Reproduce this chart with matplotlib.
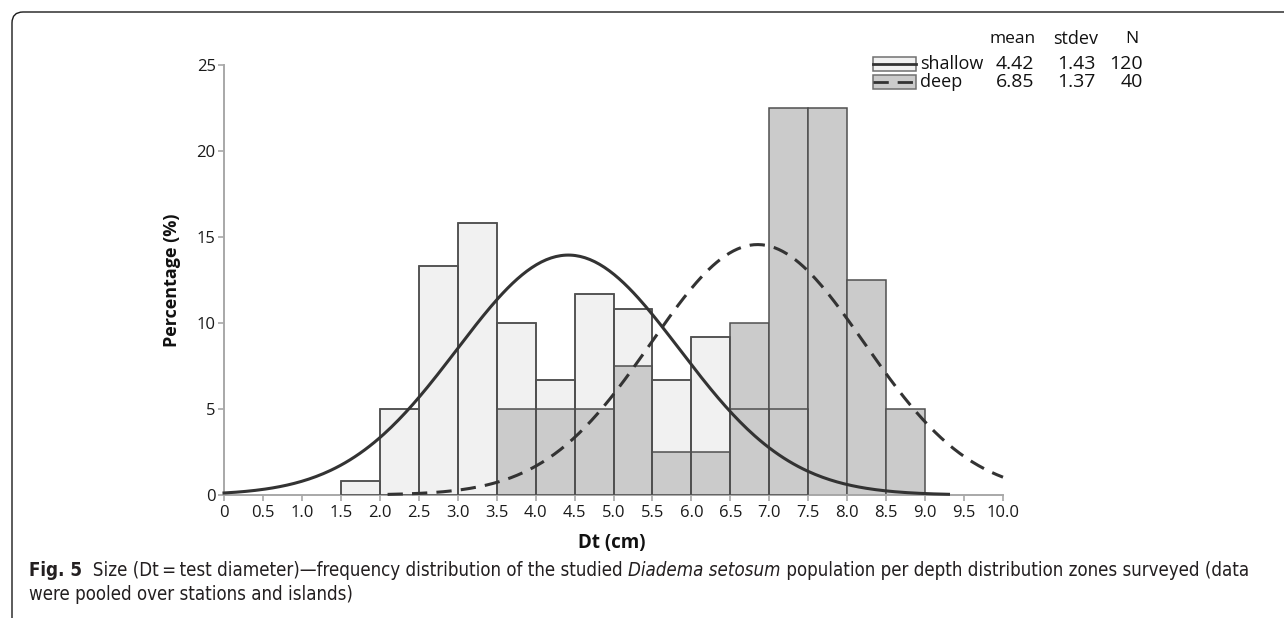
import numpy as np
import matplotlib
matplotlib.use('Agg')
import matplotlib.pyplot as plt
from matplotlib.patches import Rectangle
from matplotlib.lines import Line2D
from matplotlib.path import Path
from matplotlib.patches import PathPatch

# ---------------- data ----------------
bin_left = [1.5, 2.0, 2.5, 3.0, 3.5, 4.0, 4.5, 5.0, 5.5, 6.0, 6.5, 7.0, 7.5, 8.0, 8.5]
bin_width = 0.5
shallow_pct = [0.83, 5.0, 13.33, 15.83, 10.0, 6.67, 11.67, 10.83, 6.67, 9.17, 5.0, 5.0, 0, 0, 0]
deep_pct = [0, 0, 0, 0, 5.0, 5.0, 5.0, 7.5, 2.5, 2.5, 10.0, 22.5, 22.5, 12.5, 5.0]

groups = ["shallow", "deep"]
means = [4.42, 6.85]
stdevs = [1.43, 1.37]
counts = [120, 40]
curve_ranges = [(0.0, 9.3), (2.1, 10.0)]

x_ticks = [0, 0.5, 1.0, 1.5, 2.0, 2.5, 3.0, 3.5, 4.0, 4.5, 5.0, 5.5, 6.0, 6.5, 7.0,
           7.5, 8.0, 8.5, 9.0, 9.5, 10.0]
x_tick_labels = ["0", "0.5", "1.0", "1.5", "2.0", "2.5", "3.0", "3.5", "4.0", "4.5", "5.0",
                 "5.5", "6.0", "6.5", "7.0", "7.5", "8.0", "8.5", "9.0", "9.5", "10.0"]
y_ticks = [0, 5, 10, 15, 20, 25]

x_label = "Dt (cm)"
y_label = "Percentage (%)"

# ---------------- style ----------------
W, H = 1284, 618
plt.rcParams['font.family'] = ['Open Sans', 'DejaVu Sans']
LIGHT = '#f1f1f1'
GRAY = '#cbcbcb'
EDGE = '#505050'
AXC = '#a8a8a8'
CURVE = '#333333'

fig = plt.figure(figsize=(W / 100, H / 100), dpi=100)


def P(x, y):
    return (x / W, 1 - y / H)


ax = fig.add_axes([224 / W, 123 / H, (1003 - 224) / W, (495 - 65) / H])
ax.set_xlim(0, 10)
ax.set_ylim(0, 25)

lefts = np.array(bin_left)
sh = np.array(shallow_pct)
dp = np.array(deep_pct)
m_sh = sh > 0
m_dp = dp > 0
ax.bar(lefts[m_sh], sh[m_sh], width=bin_width, align='edge', color=LIGHT,
       edgecolor=EDGE, linewidth=1.1, zorder=1)
ax.bar(lefts[m_dp], dp[m_dp], width=bin_width, align='edge', color=GRAY,
       edgecolor=EDGE, linewidth=1.1, zorder=2)
ax.bar(lefts[m_sh], sh[m_sh], width=bin_width, align='edge', facecolor='none',
       edgecolor=EDGE, linewidth=1.1, zorder=3)

styles = ['-', '--']
for i in range(2):
    lo, hi = curve_ranges[i]
    xs = np.linspace(lo, hi, 300)
    ys = 100 * bin_width / (stdevs[i] * np.sqrt(2 * np.pi)) * np.exp(-0.5 * ((xs - means[i]) / stdevs[i]) ** 2)
    ln, = ax.plot(xs, ys, color=CURVE, linewidth=2.2, zorder=5, clip_on=False)
    if styles[i] == '--':
        ln.set_dashes([5.0, 3.0])

for s in ['top', 'right']:
    ax.spines[s].set_visible(False)
for s in ['left', 'bottom']:
    ax.spines[s].set_color(AXC)
    ax.spines[s].set_linewidth(1.4)
ax.spines['left'].set_zorder(0.5)

ax.set_xticks(x_ticks)
ax.set_xticklabels(x_tick_labels)
ax.set_yticks(y_ticks)
ax.tick_params(axis='both', color=AXC, length=4, width=1.2, labelsize=12, labelcolor='#1a1a1a')
ax.tick_params(axis='x', pad=3)
ax.tick_params(axis='y', pad=2)

fig.text(*P(612, 543), x_label, ha='center', va='center', fontsize=13.5, fontweight='bold', color='#111111')
fig.text(*P(172, 280), y_label, ha='center', va='center', rotation=90, fontsize=13,
         fontweight='bold', color='#111111')

# ---------------- legend with stats ----------------
hdr_y = 39
row_y = [64, 82]
fig.text(*P(1013, hdr_y), "mean", ha='center', va='center', fontsize=12.5, color='#111111')
fig.text(*P(1076, hdr_y), "stdev", ha='center', va='center', fontsize=13, color='#111111')
fig.text(*P(1132, hdr_y), "N", ha='center', va='center', fontsize=12.5, color='#111111')
face = [LIGHT, GRAY]
for i in range(2):
    y = row_y[i]
    x0, x1 = 873, 916
    bl = P(x0, y + 7)
    tr = P(x1, y - 7)
    fig.add_artist(Rectangle(bl, tr[0] - bl[0], tr[1] - bl[1], transform=fig.transFigure,
                             facecolor=face[i], edgecolor='#707070', linewidth=1.1))
    l = Line2D([P(x0, y)[0], P(x1, y)[0]], [P(x0, y)[1], P(x1, y)[1]], transform=fig.transFigure,
               color=CURVE, linewidth=2.0)
    if i == 1:
        l.set_dashes([5.5, 3.2])
    fig.add_artist(l)
    fig.text(*P(920, y), groups[i], ha='left', va='center', fontsize=13, color='#111111')
    fig.text(*P(1015, y), f"{means[i]:.2f}", ha='center', va='center', fontsize=14, color='#111111')
    fig.text(*P(1076, y), f"{stdevs[i]:.2f}", ha='center', va='center', fontsize=14, color='#111111')
    fig.text(*P(1143, y), f"{counts[i]}", ha='right', va='center', fontsize=14, color='#111111')

# ---------------- frame ----------------
r = 11
verts = [(W + 5, 12), (12 + r, 12), (12, 12), (12, 12 + r), (12, 625)]
codes = [Path.MOVETO, Path.LINETO, Path.CURVE3, Path.CURVE3, Path.LINETO]
verts_f = [P(x, y) for x, y in verts]
fig.add_artist(PathPatch(Path(verts_f, codes), transform=fig.transFigure, facecolor='none',
                         edgecolor='#1a1a1a', linewidth=1.0, clip_on=False))

# ---------------- caption ----------------
cap_fam = ['DejaVu Sans']
cap_col = '#231f20'
line1 = [("Fig. 5", 'bold', 'normal'),
         ("  Size (Dt\u2009=\u2009test diameter)\u2014frequency distribution of the studied ", 'normal', 'normal'),
         ("Diadema setosum", 'normal', 'italic'),
         (" population per depth distribution zones surveyed (data", 'normal', 'normal')]
line2 = [("were pooled over stations and islands)", 'normal', 'normal')]

renderer = fig.canvas.get_renderer()


def draw_line(pieces, x, y, size):
    arts = []
    for txt, wt, st in pieces:
        t = fig.text(*P(x, y), txt, ha='left', va='baseline', fontsize=size, fontweight=wt,
                     fontstyle=st, fontstretch='condensed', family=cap_fam, color=cap_col)
        bb = t.get_window_extent(renderer)
        x += bb.width
        arts.append(t)
    return arts, x


size = 12.0
arts, xend = draw_line(line1, 29, 576, size)
for a in arts:
    a.remove()
size = min(14.0, size * (1255 - 29) / (xend - 29))
draw_line(line1, 29, 576, size)
draw_line(line2, 29, 600, size)

fig.savefig('out.png', dpi=100)
